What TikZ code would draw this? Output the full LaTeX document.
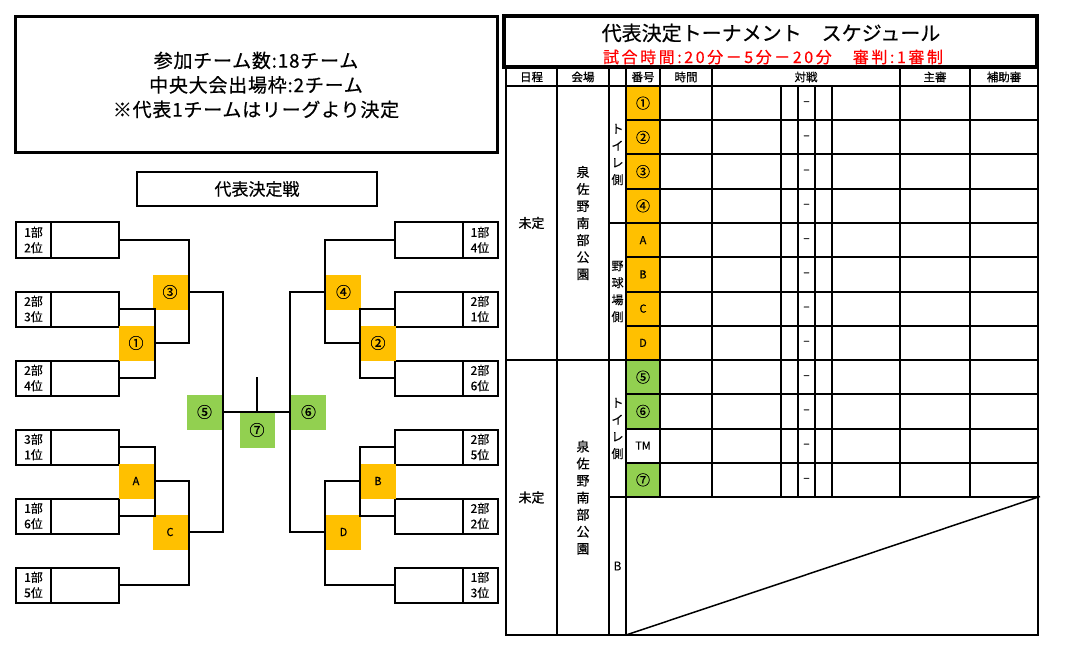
\documentclass[tikz,border=0pt]{standalone}
\usepackage{fontspec}
\setmainfont{Noto Sans CJK JP}[FakeBold=0.5]

\definecolor{matchorange}{HTML}{FFC000}
\definecolor{matchgreen}{HTML}{92D050}
\newcommand{\fsz}[2]{\fontsize{#1}{#2}\selectfont}

\tikzset{
	team/.style={draw, line width=2pt, minimum width=103pt, minimum height=35pt, inner sep=0pt},
	rank/.style={draw, line width=2pt, minimum width=35pt, minimum height=35pt, inner sep=0pt, align=center, font=\fsz{12}{15.5}},
	match/.style={minimum width=35pt, minimum height=35pt, inner sep=0pt, font=\fsz{15}{15}},
	orange match/.style={match, fill=matchorange},
	green match/.style={match, fill=matchgreen},
	numcell/.style={minimum width=34pt, minimum height=34.25pt, inner sep=0pt, font=\fsz{14}{14}},
	head/.style={inner sep=0pt, font=\fsz{11.5}{11.5}},
	vert/.style={align=center, inner sep=0pt, font=\fsz{13}{17}},
	vsmark/.style={inner sep=0pt, text=black!80, font=\fsz{12}{12}},
	tline/.style={line width=2pt},
}

\begin{document}
\begin{tikzpicture}[x=1pt, y=-1pt, line width=2pt]
			\useasboundingbox (0,0) rectangle (1067,660);

			% info boxes
			\node[draw, line width=3pt, minimum width=482pt, minimum height=136pt, align=center, font=\fsz{19}{24.5}\addfontfeature{LetterSpace=4}] (info) at (256,85) {参加チーム数:18チーム\\中央大会出場枠:2チーム\\※代表1チームはリーグより決定} ;
			\node[draw, line width=2pt, minimum width=240pt, minimum height=34pt, font=\fsz{17}{17}] (final) at (257,189) {代表決定戦} ;

			% teams on the left
			\node[team] (l1) at (67.5,240) {} ;
			\node[team] (l2) at (67.5,309) {} ;
			\node[team] (l3) at (67.5,378) {} ;
			\node[team] (l4) at (67.5,447) {} ;
			\node[team] (l5) at (67.5,516) {} ;
			\node[team] (l6) at (67.5,585) {} ;
			\node[rank, anchor=west] (l1r) at (l1.west) {1部\\2位} ;
			\node[rank, anchor=west] (l2r) at (l2.west) {2部\\3位} ;
			\node[rank, anchor=west] (l3r) at (l3.west) {2部\\4位} ;
			\node[rank, anchor=west] (l4r) at (l4.west) {3部\\1位} ;
			\node[rank, anchor=west] (l5r) at (l5.west) {1部\\6位} ;
			\node[rank, anchor=west] (l6r) at (l6.west) {1部\\5位} ;

			% teams on the right
			\node[team] (r1) at (446,240) {} ;
			\node[team] (r2) at (446,309) {} ;
			\node[team] (r3) at (446,378) {} ;
			\node[team] (r4) at (446,447) {} ;
			\node[team] (r5) at (446,516) {} ;
			\node[team] (r6) at (446,585) {} ;
			\node[rank, anchor=east] (r1r) at (r1.east) {1部\\4位} ;
			\node[rank, anchor=east] (r2r) at (r2.east) {2部\\1位} ;
			\node[rank, anchor=east] (r3r) at (r3.east) {2部\\6位} ;
			\node[rank, anchor=east] (r4r) at (r4.east) {2部\\5位} ;
			\node[rank, anchor=east] (r5r) at (r5.east) {2部\\2位} ;
			\node[rank, anchor=east] (r6r) at (r6.east) {1部\\3位} ;

			% match squares
			\node[orange match] (m1) at (136,343) {①} ;
			\node[orange match] (m3) at (170,292) {③} ;
			\node[orange match, font=\fsz{11}{11}] (mA) at (136,481) {A} ;
			\node[orange match, font=\fsz{11}{11}] (mC) at (170,532) {C} ;
			\node[green match] (m5) at (204.5,412) {⑤} ;
			\node[green match] (m7) at (257,430) {⑦} ;
			\node[green match] (m6) at (308.5,412) {⑥} ;
			\node[orange match] (m4) at (343.5,292) {④} ;
			\node[orange match] (m2) at (378,343) {②} ;
			\node[orange match, font=\fsz{11}{11}] (mB) at (378,481) {B} ;
			\node[orange match, font=\fsz{11}{11}] (mD) at (343.5,532) {D} ;
			\coordinate (top) at (257,377) ;

			% bracket lines, left half
			\draw (l2.east) -- (l2.east -| m1.east) -- (l3.east -| m1.east) -- (l3.east) ;
			\draw (l1.east) -- (l1.east -| m3.east) -- (m1.east -| m3.east) -- (m1.east) ;
			\draw (m3.east) -- (m3.east -| m5.east) -- (mC.east -| m5.east) -- (mC.east) ;
			\draw (l4.east) -- (l4.east -| mA.east) -- (l5.east -| mA.east) -- (l5.east) ;
			\draw (mA.east) -- (mA.east -| mC.east) -- (l6.east -| mC.east) -- (l6.east) ;

			% bracket lines, right half
			\draw (r2.west) -- (r2.west -| m2.west) -- (r3.west -| m2.west) -- (r3.west) ;
			\draw (r1.west) -- (r1.west -| m4.west) -- (m2.west -| m4.west) -- (m2.west) ;
			\draw (m4.west) -- (m4.west -| m6.west) -- (mD.west -| m6.west) -- (mD.west) ;
			\draw (r4.west) -- (r4.west -| mB.west) -- (r5.west -| mB.west) -- (r5.west) ;
			\draw (mB.west) -- (mB.west -| mD.west) -- (r6.west -| mD.west) -- (r6.west) ;

			% final
			\draw (m5.east) -- (m6.west) ;
			\draw (top) -- (top |- m5.east) ;

			% schedule title
			\node[draw, line width=3.5pt, minimum width=533pt, minimum height=51pt] (sched) at (770.5,41.5) {} ;
			\node[font=\fsz{20}{20}, inner sep=0pt] (schedtitle) at (771,33) {代表決定トーナメント　スケジュール} ;
			\node[font=\fsz{16}{16}\addfontfeature{LetterSpace=16}, text=red, inner sep=0pt] (schedrule) at (773,57) {試合時間:20分－5分－20分　審判:1審制} ;

			% number cells
			\node[numcell, fill=matchorange] (n1) at (643,103.125) {①} ;
			\node[numcell, fill=matchorange] (n2) at (643,137.375) {②} ;
			\node[numcell, fill=matchorange] (n3) at (643,171.625) {③} ;
			\node[numcell, fill=matchorange] (n4) at (643,205.875) {④} ;
			\node[numcell, fill=matchorange, font=\fsz{11}{11}] (n5) at (643,240.125) {A} ;
			\node[numcell, fill=matchorange, font=\fsz{11}{11}] (n6) at (643,274.375) {B} ;
			\node[numcell, fill=matchorange, font=\fsz{11}{11}] (n7) at (643,308.625) {C} ;
			\node[numcell, fill=matchorange, font=\fsz{11}{11}] (n8) at (643,342.875) {D} ;
			\node[numcell, fill=matchgreen] (n9) at (643,377.125) {⑤} ;
			\node[numcell, fill=matchgreen] (n10) at (643,411.375) {⑥} ;
			\node[numcell, font=\fsz{11}{11}] (n11) at (643,445.625) {TM} ;
			\node[numcell, fill=matchgreen] (n12) at (643,479.875) {⑦} ;

			% table frame
			\draw[tline] (506,68) rectangle (1038,635) ;
			\draw[tline] (506,86) -- (1038,86) ;
			\draw[tline] (506,360) -- (1038,360) ;
			\draw[tline] (609,223) -- (1038,223) ;
			\draw[tline] (609,497) -- (1038,497) ;

			% row lines
			\draw[tline] (626,120.25) -- (1038,120.25) ;
			\draw[tline] (626,154.5) -- (1038,154.5) ;
			\draw[tline] (626,188.75) -- (1038,188.75) ;
			\draw[tline] (626,257.25) -- (1038,257.25) ;
			\draw[tline] (626,291.5) -- (1038,291.5) ;
			\draw[tline] (626,325.75) -- (1038,325.75) ;
			\draw[tline] (626,394.25) -- (1038,394.25) ;
			\draw[tline] (626,428.5) -- (1038,428.5) ;
			\draw[tline] (626,462.75) -- (1038,462.75) ;

			% column lines
			\draw[tline] (557,68) -- (557,635) ;
			\draw[tline] (609,68) -- (609,635) ;
			\draw[tline] (626,68) -- (626,635) ;
			\draw[tline] (660,68) -- (660,497) ;
			\draw[tline] (712,68) -- (712,497) ;
			\draw[tline] (900,68) -- (900,497) ;
			\draw[tline] (970,68) -- (970,497) ;
			\draw[tline] (781,86) -- (781,497) ;
			\draw[tline] (798,86) -- (798,497) ;
			\draw[tline] (815,86) -- (815,497) ;
			\draw[tline] (832,86) -- (832,497) ;

			% b field
			\draw[line width=1.5pt] (626,635) -- (1040,496.5) ;

			% header labels
			\node[head] (h1) at (531.5,77) {日程} ;
			\node[head] (h2) at (583,77) {会場} ;
			\node[head] (h3) at (643,77) {番号} ;
			\node[head] (h4) at (686,77) {時間} ;
			\node[head] (h5) at (806,77) {対戦} ;
			\node[head] (h6) at (935,77) {主審} ;
			\node[head] (h7) at (1004,77) {補助審} ;

			% day, place and side
			\node[vert] (day1) at (531.5,223) {未定} ;
			\node[vert] (day2) at (531.5,497.5) {未定} ;
			\node[vert] (place1) at (583,223) {泉\\佐\\野\\南\\部\\公\\園} ;
			\node[vert] (place2) at (583,497.5) {泉\\佐\\野\\南\\部\\公\\園} ;
			\node[vert, font=\fsz{12}{17}] (side1) at (617.5,154.5) {ト\\イ\\レ\\側} ;
			\node[vert, font=\fsz{12}{17}] (side2) at (617.5,291.5) {野\\球\\場\\側} ;
			\node[vert, font=\fsz{12}{17}] (side3) at (617.5,428.5) {ト\\イ\\レ\\側} ;
			\node[vert, font=\fsz{12}{12}] (side4) at (617.5,566) {B} ;

			% score dashes
			\node[vsmark] (d1) at (806.5,103.125) {–} ;
			\node[vsmark] (d2) at (806.5,137.375) {–} ;
			\node[vsmark] (d3) at (806.5,171.625) {–} ;
			\node[vsmark] (d4) at (806.5,205.875) {–} ;
			\node[vsmark] (d5) at (806.5,240.125) {–} ;
			\node[vsmark] (d6) at (806.5,274.375) {–} ;
			\node[vsmark] (d7) at (806.5,308.625) {–} ;
			\node[vsmark] (d8) at (806.5,342.875) {–} ;
			\node[vsmark] (d9) at (806.5,377.125) {–} ;
			\node[vsmark] (d10) at (806.5,411.375) {–} ;
			\node[vsmark] (d11) at (806.5,445.625) {–} ;
			\node[vsmark] (d12) at (806.5,479.875) {–} ;

		\end{tikzpicture}
\end{document}
